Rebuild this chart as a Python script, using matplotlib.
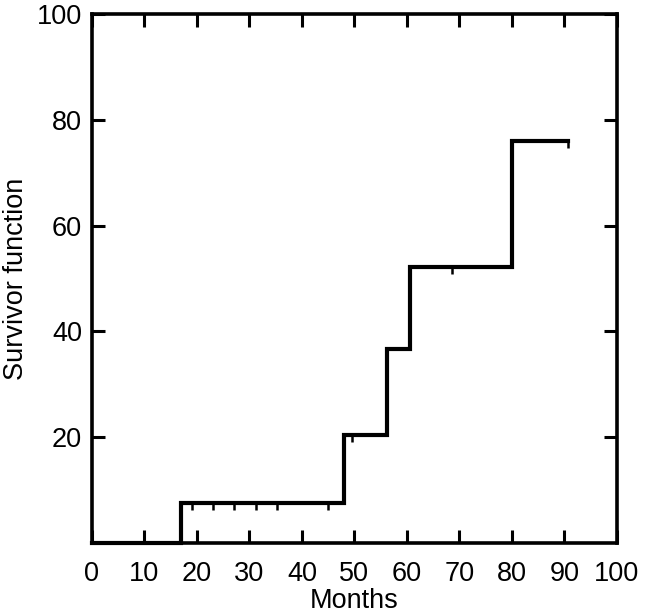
import matplotlib
matplotlib.use("Agg")
from matplotlib import pyplot as plt
from matplotlib.markers import TICKDOWN

# step curve (time, value after the step)
step_times = [0, 17, 48, 56.3, 60.6, 80, 90.6]
step_surv = [0, 7.5, 20.5, 36.7, 52.2, 76, 76]

# censored observations
censor_times = [19, 23, 27, 31.2, 35.2, 45, 49.5, 68.5, 90.6]
censor_surv = [7.5, 7.5, 7.5, 7.5, 7.5, 7.5, 20.5, 52.2, 76]

x_ticks = [0, 10, 20, 30, 40, 50, 60, 70, 80, 90, 100]
y_ticks = [20, 40, 60, 80, 100]

plt.rcParams['font.family'] = ['Liberation Sans', 'DejaVu Sans']

fig = plt.figure(figsize=(6.56, 6.16), dpi=100)
ax = fig.add_axes([0.140, 0.1185, 0.8005, 0.8585])

ax.step(step_times, step_surv, where='post', color='black', lw=3,
        solid_joinstyle='miter', clip_on=False)
ax.plot(censor_times, censor_surv, ls='none', marker=TICKDOWN,
        markersize=5, markeredgewidth=1.8, color='black')

ax.set_xlim(0, 100)
ax.set_ylim(0, 100)
ax.set_xticks(x_ticks)
ax.set_yticks(y_ticks)
ax.tick_params(direction='in', length=9.5, width=2.2, labelsize=19.5,
               top=True, right=True)
ax.tick_params(axis='x', pad=13)
ax.tick_params(axis='y', pad=7)
for s in ax.spines.values():
    s.set_linewidth(2.6)

ax.set_xlabel('Months', fontsize=19.5, labelpad=1)
ax.set_ylabel('Survivor function', fontsize=19.5, labelpad=6)

fig.savefig('out.png', dpi=100)
